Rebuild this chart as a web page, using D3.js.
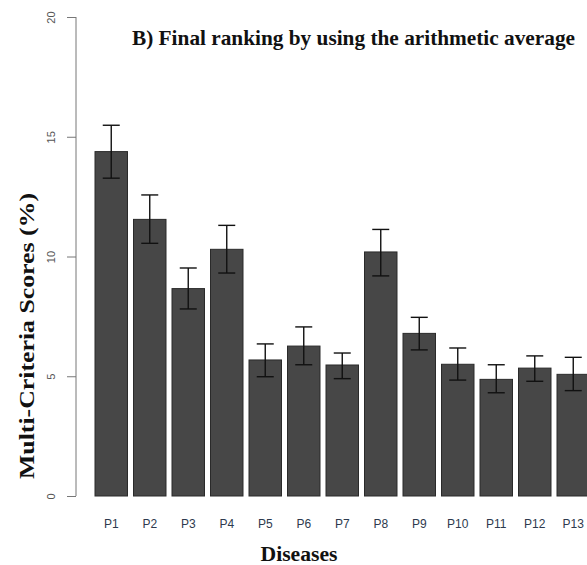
<!DOCTYPE html>
<html>
<head>
<meta charset="utf-8">
<script src="https://cdn.jsdelivr.net/npm/d3@7"></script>
<style>
  body { margin: 0; background: #fff; }
</style>
</head>
<body>
<div id="chart"></div>
<script>
// data
const diseases = ["P1", "P2", "P3", "P4", "P5", "P6", "P7", "P8", "P9", "P10", "P11", "P12", "P13"];
const scores = [14.38, 11.55, 8.66, 10.30, 5.68, 6.26, 5.47, 10.19, 6.79, 5.50, 4.87, 5.34, 5.08];
const errLow = [13.27, 10.55, 7.81, 9.31, 4.98, 5.48, 4.90, 9.19, 6.10, 4.84, 4.31, 4.79, 4.40];
const errHigh = [15.48, 12.57, 9.52, 11.30, 6.35, 7.06, 5.97, 11.13, 7.46, 6.18, 5.48, 5.85, 5.79];
const yTicks = [0, 5, 10, 15, 20];

const W = 587, H = 565;

const svg = d3.select("#chart")
  .append("svg")
  .attr("width", W)
  .attr("height", H);

// scales
const x = d3.scaleBand()
  .domain(diseases)
  .range([95, 589.5])
  .paddingInner(0.156)
  .paddingOuter(0);

const y = d3.scaleLinear().domain([0, 20]).range([496, 17]);

// y axis (R style: rotated tick labels)
const yAxis = svg.append("g")
  .attr("transform", "translate(76,0)")
  .call(d3.axisLeft(y).tickValues(yTicks).tickSize(9).tickPadding(0));
yAxis.select(".domain").attr("stroke", "#777").attr("d", `M0,${y(0)}V${y(20)}`);
yAxis.selectAll(".tick line").attr("stroke", "#777");
yAxis.selectAll(".tick text")
  .attr("x", null).attr("dy", null)
  .attr("transform", "translate(-21,0) rotate(-90)")
  .attr("text-anchor", "middle")
  .attr("font-family", "Liberation Sans, Arial, sans-serif")
  .attr("font-size", 11)
  .attr("fill", "#555");

// bars
svg.append("g")
  .selectAll("rect")
  .data(diseases)
  .join("rect")
  .attr("x", d => x(d))
  .attr("width", x.bandwidth())
  .attr("y", (d, i) => y(scores[i]))
  .attr("height", (d, i) => y(0) - y(scores[i]))
  .attr("fill", "#474747")
  .attr("stroke", "#2a2a2a")
  .attr("stroke-width", 1);

// error bars
const capHalf = 8.5;
const err = svg.append("g")
  .attr("stroke", "#111")
  .attr("stroke-width", 1.4)
  .selectAll("g")
  .data(diseases)
  .join("g")
  .attr("transform", d => `translate(${x(d) + x.bandwidth() / 2},0)`);
err.append("line")
  .attr("y1", (d, i) => y(errLow[i]))
  .attr("y2", (d, i) => y(errHigh[i]));
err.append("line")
  .attr("x1", -capHalf).attr("x2", capHalf)
  .attr("y1", (d, i) => y(errHigh[i]))
  .attr("y2", (d, i) => y(errHigh[i]));
err.append("line")
  .attr("x1", -capHalf).attr("x2", capHalf)
  .attr("y1", (d, i) => y(errLow[i]))
  .attr("y2", (d, i) => y(errLow[i]));

// category labels
svg.append("g")
  .selectAll("text")
  .data(diseases)
  .join("text")
  .attr("x", d => x(d) + x.bandwidth() / 2)
  .attr("y", 528)
  .attr("text-anchor", "middle")
  .attr("font-family", "Liberation Sans, Arial, sans-serif")
  .attr("font-size", 12)
  .attr("fill", "#2e3a4e")
  .text(d => d);

// title
svg.append("text")
  .attr("x", 132)
  .attr("y", 45)
  .attr("font-family", "Liberation Serif, Times New Roman, serif")
  .attr("font-weight", "bold")
  .attr("font-size", 21)
  .attr("textLength", 443)
  .attr("lengthAdjust", "spacingAndGlyphs")
  .attr("fill", "#111")
  .text("B) Final ranking by using the arithmetic average");

// axis titles
svg.append("text")
  .attr("transform", "translate(34,336) rotate(-90)")
  .attr("text-anchor", "middle")
  .attr("font-family", "Liberation Serif, Times New Roman, serif")
  .attr("font-weight", "bold")
  .attr("font-size", 20)
  .attr("textLength", 286)
  .attr("lengthAdjust", "spacingAndGlyphs")
  .attr("fill", "#111")
  .text("Multi-Criteria Scores (%)");

svg.append("text")
  .attr("x", 299)
  .attr("y", 561)
  .attr("text-anchor", "middle")
  .attr("font-family", "Liberation Serif, Times New Roman, serif")
  .attr("font-weight", "bold")
  .attr("font-size", 20)
  .attr("textLength", 77)
  .attr("lengthAdjust", "spacingAndGlyphs")
  .attr("fill", "#111")
  .text("Diseases");
</script>
</body>
</html>
